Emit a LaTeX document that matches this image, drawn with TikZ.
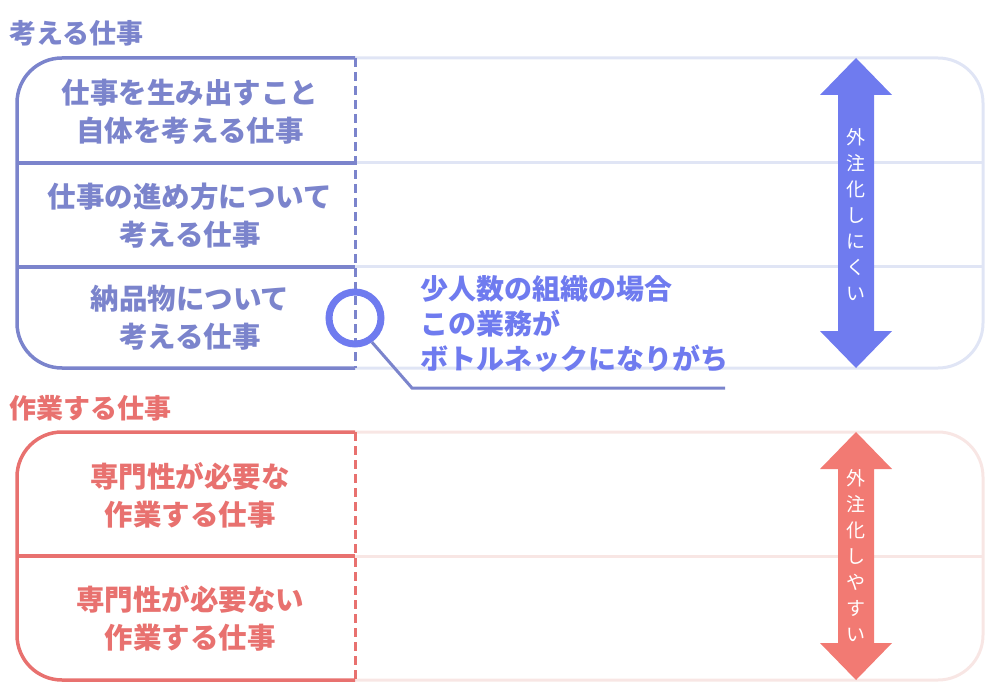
\documentclass[tikz,border=0pt]{standalone}
\usepackage{fontspec}
\setmainfont{Noto Sans CJK JP}
\usetikzlibrary{calc}
\definecolor{bl}{HTML}{7B84CC}
\definecolor{bll}{HTML}{E0E5F5}
\definecolor{bla}{HTML}{6F7BEF}
\definecolor{rd}{HTML}{E8716F}
\definecolor{rdl}{HTML}{F8E6E4}
\definecolor{rda}{HTML}{F27A73}
\tikzset{cell/.style={font=\fontsize{28.5}{38}\selectfont\bfseries, align=center},
 ttl/.style={font=\fontsize{27}{30}\selectfont\bfseries, anchor=west},
 vtxt/.style={font=\fontsize{19}{26}\selectfont, text=white, align=center}}
\begin{document}
\begin{tikzpicture}[x=1pt,y=-1pt]
\useasboundingbox (0,0) rectangle (1000,692);
% ---- top block
\draw[bll,line width=3pt,rounded corners=45] (355,58) -- (983,58) -- (983,368) -- (355,368);
\draw[bll,line width=3pt] (355,163) -- (983,163) (355,267) -- (983,267);
\draw[bl,line width=3.5pt,rounded corners=45] (355,58) -- (17,58) -- (17,368) -- (355,368);
\draw[bl,line width=3.5pt] (17,163) -- (355,163) (17,267) -- (355,267);
\draw[bl,line width=3pt,dash pattern=on 9pt off 5pt] (355,58) -- (355,368);
\node[ttl,text=bl] (t1) at (6,33) {考える仕事};
\node[cell,text=bl] (c1) at (190,112) {仕事を生み出すこと\\自体を考える仕事};
\node[cell,text=bl] (c2) at (190,216) {仕事の進め方について\\考える仕事};
\node[cell,text=bl] (c3) at (190,318) {納品物について\\考える仕事};
\fill[bla] (838,95) -- (820,95) -- (856,58) -- (892,95) -- (874,95) -- (874,331) -- (892,331) -- (856,368) -- (820,331) -- (838,331) -- cycle;
\node[vtxt] (v1) at (856,215) {外\\注\\化\\し\\に\\く\\い};
% magnifier
\node[circle,draw=bla,line width=7pt,minimum size=52pt,inner sep=0pt] (mag) at (355,318) {};
\coordinate (k1) at (412,388);
\coordinate (k2) at (725,388);
\draw[bl,line width=3pt] (mag.-55) -- (k1) -- (k2);
\node[font=\fontsize{28}{35}\selectfont\bfseries,text=bla,align=left,anchor=north west] (note) at (417,272) {少人数の組織の場合\\この業務が\\ボトルネックになりがち};
% ---- bottom block
\draw[rdl,line width=3pt,rounded corners=45] (355,432) -- (983,432) -- (983,680) -- (355,680);
\draw[rdl,line width=3pt] (355,556) -- (983,556);
\draw[rd,line width=3.5pt,rounded corners=45] (355,432) -- (17,432) -- (17,680) -- (355,680);
\draw[rd,line width=3.5pt] (17,556) -- (355,556);
\draw[rd,line width=3pt,dash pattern=on 9pt off 5pt] (355,432) -- (355,680);
\node[ttl,text=rd] (t2) at (6,408) {作業する仕事};
\node[cell,text=rd] (d1) at (190,495) {専門性が必要な\\作業する仕事};
\node[cell,text=rd] (d2) at (190,618) {専門性が必要ない\\作業する仕事};
\fill[rda] (838,469) -- (820,469) -- (856,432) -- (892,469) -- (874,469) -- (874,643) -- (892,643) -- (856,680) -- (820,643) -- (838,643) -- cycle;
\node[vtxt] (v2) at (856,556) {外\\注\\化\\し\\や\\す\\い};
\end{tikzpicture}
\end{document}
